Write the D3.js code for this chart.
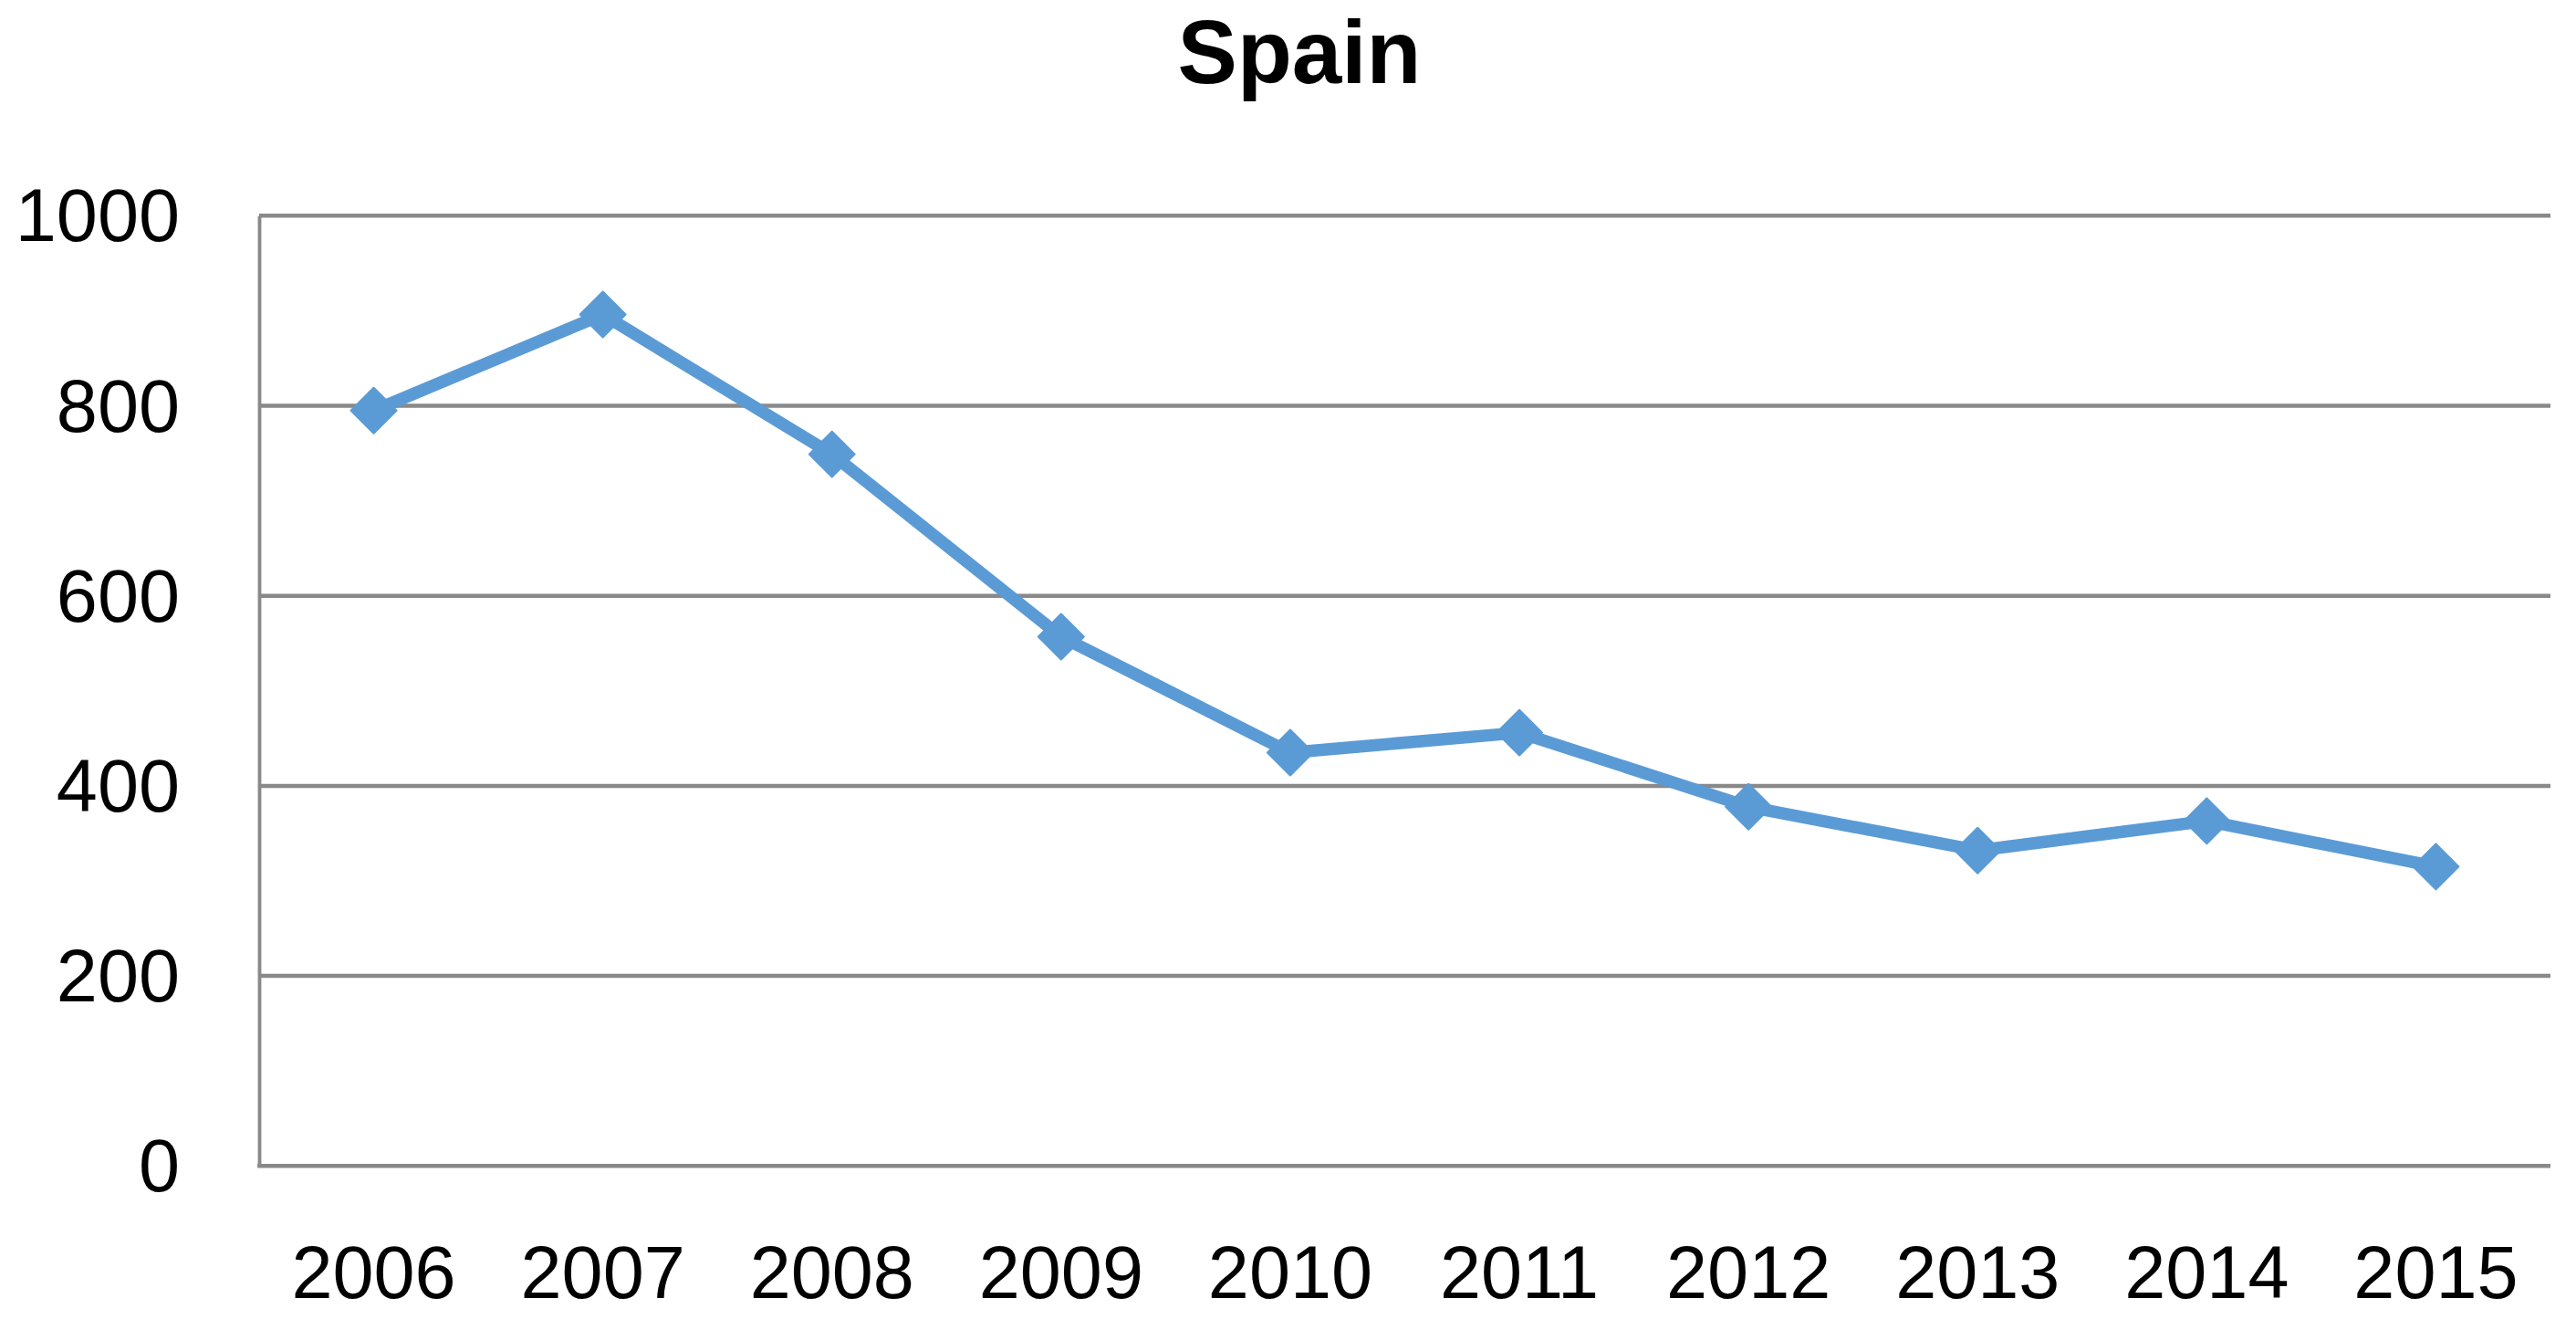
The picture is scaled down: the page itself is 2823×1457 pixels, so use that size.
<!DOCTYPE html>
<html>
<head>
<meta charset="utf-8">
<script src="https://cdn.jsdelivr.net/npm/d3@7"></script>
<style>
html,body{margin:0;padding:0;background:#fff;}
svg{display:block;}
</style>
</head>
<body>
<script>
const title = "Spain";
const years = ["2006","2007","2008","2009","2010","2011","2012","2013","2014","2015"];
const values = [795, 896, 749, 557, 435, 456, 378, 332, 363, 315];
const yTicks = [0, 200, 400, 600, 800, 1000];

const W = 2823, H = 1457;
const plotLeft = 284, plotRight = 2795, plotTop = 236.3, plotBottom = 1277.3;
const font = "'Liberation Sans', Arial, sans-serif";

const svg = d3.select("body").append("svg").attr("width", W).attr("height", H);

const x = d3.scaleBand().domain(years).range([plotLeft, plotRight]);
const y = d3.scaleLinear().domain([0, 1000]).range([plotBottom, plotTop]);

// gridlines
svg.append("g").selectAll("line").data(yTicks.filter(d => d > 0)).join("line")
  .attr("x1", plotLeft).attr("x2", plotRight)
  .attr("y1", d => y(d)).attr("y2", d => y(d))
  .attr("stroke", "#898989").attr("stroke-width", 4.5);

// y axis
const yAxis = svg.append("g").attr("transform", `translate(${plotLeft},0)`)
  .call(d3.axisLeft(y).tickValues(yTicks).tickSize(0).tickPadding(87).tickFormat(d3.format("d")));
yAxis.select(".domain").attr("stroke", "#898989").attr("stroke-width", 3.8);
yAxis.selectAll("text").attr("font-family", font).attr("font-size", 81).attr("fill", "#000")
  .attr("dy", "0.34em");

// x axis
const xAxis = svg.append("g").attr("transform", `translate(0,${plotBottom})`)
  .call(d3.axisBottom(x).tickSize(0).tickPadding(145));
xAxis.select(".domain").attr("stroke", "#898989").attr("stroke-width", 4.5)
  .attr("d", `M${plotLeft - 1.9},0H${plotRight}`);
xAxis.selectAll("text").attr("font-family", font).attr("font-size", 81).attr("fill", "#000")
  .attr("dy", "0");

// line
const line = d3.line().x((d, i) => x(years[i]) + x.bandwidth() / 2).y(d => y(d));
svg.append("path").datum(values)
  .attr("d", line)
  .attr("fill", "none").attr("stroke", "#5B9BD5").attr("stroke-width", 13.5)
  .attr("stroke-linejoin", "round");

// markers (diamonds)
const sym = d3.symbol().type(d3.symbolSquare).size(1250);
svg.append("g").selectAll("path").data(values).join("path")
  .attr("d", sym)
  .attr("transform", (d, i) => `translate(${x(years[i]) + x.bandwidth() / 2},${y(d)}) rotate(45)`)
  .attr("fill", "#5B9BD5").attr("stroke", "#5B9BD5").attr("stroke-width", 2).attr("stroke-linejoin", "round");

// title
svg.append("text").attr("x", 1424).attr("y", 91)
  .attr("text-anchor", "middle").attr("font-family", font).attr("font-weight", "bold")
  .attr("font-size", 98).attr("fill", "#000").text(title);
</script>
</body>
</html>
